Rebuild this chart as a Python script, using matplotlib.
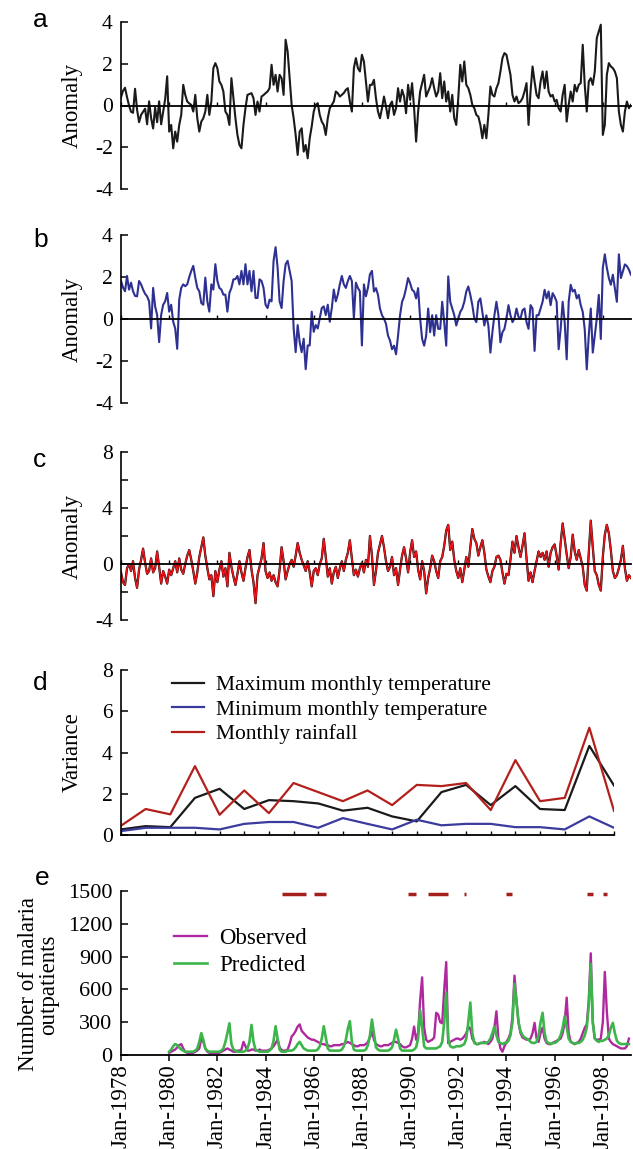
import matplotlib
matplotlib.use("Agg")
import matplotlib.pyplot as plt

W, H = 633, 1149
SERIF = "Liberation Serif"
SANS = "Liberation Sans"

# ---------------- data ----------------
START_YEAR = 1978  # monthly series start (Jan)

# (a) maximum monthly temperature anomaly
max_temp_anomaly = [
    0.4, 0.7, 0.85, 0.4, 0.0, -0.3, -0.35, 0.8, -0.2, -0.8, -0.45, -0.3,
    -0.15, -0.9, 0.2, -0.6, -1.1, -0.1, -0.8, 0.2, -0.9, -0.3, 0.3, 1.4,
    -1.25, -0.93, -2.05, -1.25, -1.73, -0.93, -0.45, 0.99, 0.51, 0.19, 0.1, 0.03,
    -0.29, 0.51, -0.61, -1.25, -0.77, -0.61, -0.29, 0.51, -0.45, 0.19, 1.79, 2.03,
    1.79, 1.15, 0.99, 0.67, -0.29, -0.45, -0.93, 1.31, 0.35, -0.61, -1.41, -1.89,
    -2.05, -0.93, -0.13, 0.51, 0.55, 0.59, 0.35, -0.45, 0.19, -0.29, 0.43, 0.5,
    0.59, 0.67, 0.83, 1.95, 0.99, 1.47, 0.67, 1.47, 1.31, 0.51, 3.15, 2.59,
    1.3, 0.03, -0.61, -1.41, -2.37, -1.25, -1.09, -2.21, -1.89, -2.53, -1.57, -1.0,
    -0.29, 0.03, 0.11, -0.45, -0.77, -0.93, -1.41, -0.61, -0.13, 0.03, 0.19, 0.67,
    0.59, 0.43, 0.51, 0.6, 0.75, 0.83, 0.19, -0.29, 1.79, 2.27, 1.79, 1.63,
    2.43, 2.11, 1.15, 0.19, 0.99,
    0.99, 1.23, 0.35, -0.29, -0.61, -0.13, 0.43, -0.05, -0.61, 0.03, 0.19, -0.45,
    -0.13, 0.83, 0.19, 0.75, 0.43, -0.37, 0.99, 0.27, 1.07, -0.13, -1.73, -0.29,
    0.67, 1.07, 1.47, 0.43, 0.67, 0.91, 1.31, 0.83, 0.43, 0.67, 1.55, 0.35,
    1.15, 0.19, 0.67, -0.29, 0.51, -0.61, -0.93, 0.35, 1.95, 1.15, 2.11, 0.99,
    0.83, 0.51, 0.03, -0.13, -0.45, -0.53, -0.93, -1.57, -0.93, -1.57, -0.45, 0.91,
    0.51, 0.43, 0.83, 1.07, 1.63, 2.27, 2.51, 2.43, 1.95, 1.47, 0.51, 0.19,
    0.43, 0.11, 0.19, 0.35, 0.67, 1.07, -0.93, 0.67, 1.87, 1.15, 0.51, 0.35,
    1.15, 1.63, 0.83, 1.63, 0.67, 0.43, 0.51, 0.19, 0.27, -0.13, -0.29, 0.51,
    0.99, -0.77, 0.03, 0.67, 0.19, 0.99, 0.67, 0.99, 1.07, 2.91, 0.99, -0.29,
    1.15, 1.31, 0.99, 1.63, 3.23, 3.55, 3.87, -1.41, -0.93, 1.47, 2.03, 1.87,
    1.79, 1.63, 1.31, -0.29, -0.93, -1.25, -0.29, 0.19, -0.13, 0.03,
]

# (b) minimum monthly temperature anomaly
min_temp_anomaly = [
    1.81, 1.5, 1.32, 2.05, 1.40, 1.73, 1.32, 1.1, 1.08, 1.81, 1.65, 1.40,
    1.2, 1.08, 0.84, -0.45, 1.48, 0.60, 0.19, -1.10, 0.19, 0.68, 0.84, 1.24,
    0.35, 0.68, -0.13, -0.45, -1.42, 0.92, 1.48, 1.65, 1.56, 1.65, 2.0, 2.29,
    2.53, 1.97, 1.48, 1.32, 0.76, 0.68, 1.97, 0.84, 0.35, 1.65, 1.40, 2.61,
    1.81, 1.48, 1.40, 1.16, 1.16, 0.35, 1.24, 1.48, 1.89, 1.9, 2.05, 1.65,
    2.29, 1.65, 2.61, 1.65, 2.29, 1.32, 2.29, 1.0, 1.0, 1.89, 1.81, 1.48,
    0.68, 0.52, 0.92, 0.84, 2.77, 3.42, 2.45, 0.84, 0.52, 1.81, 2.61, 2.77,
    2.29, 1.81, -0.45, -1.58, -0.29, -1.10, -1.58, -0.94, -2.39, -1.26, -1.26, 0.35,
    -0.61, -0.29, -0.45, 0.03, 0.52, 0.60, 0.19, 0.68, -0.13, 0.52, 1.40, 0.84,
    1.16, 1.65, 2.05, 1.65, 1.48, 1.81, 2.05, 1.81, 0.03, 1.73, 1.48, 1.32,
    -1.26, 1.65, 1.08, 1.48, 2.13,
    2.29, 1.31, 1.47, 1.15, 0.5, 0.18, 0.02, -0.23, -0.79, -1.03, -1.44, -1.27,
    -1.68, -0.79, 0.18, 0.82, 1.06, 1.47, 1.95, 1.71, 1.39, 1.31, 0.98, 1.47,
    0.02, -0.95, -1.27, -0.79, 0.5, -0.63, 0.18, -0.79, 0.18, -0.47, -0.47, 0.82,
    -0.15, -1.27, 2.03, 0.82, 0.5, 0.18, -0.31, 0.02, 0.34, 0.5, 0.82, 1.31,
    1.55, 1.15, 0.66, 0.02, -0.15, 0.82, 0.98, 0.34, -0.31, 0.18, -0.31, -1.6,
    -0.63, 0.18, 0.82, 0.18, -1.11, -0.63, -0.47, 0.02, 0.66, 0.18, -0.15, 0.02,
    0.5, 0.1, 0.02, 0.42, 0.5, -0.15, -0.47, 0.66, 0.5, -1.52, 0.18, 0.18,
    0.5, 0.82, 1.39, 0.98, 1.31, 0.66, 1.23, 1.06, 0.82, -1.44, -0.47, 0.82,
    -0.15, -1.92, 0.82, 1.63, 1.31, 1.39, 0.98, 1.15, 0.66, 0.34, -0.5, -2.4,
    -0.79, 0.5, -1.6, -0.79, 0.02, 1.15, -0.95, 2.44, 3.08, 2.44, 1.95, 1.63,
    2.11, 1.47, 0.82, 3.08, 1.95, 2.27, 2.6, 2.52, 2.35, 2.11,
]

# (c) monthly rainfall anomaly
rainfall_anomaly = [
    -0.6, -1.3, -1.5, -0.3, 0.0, -0.5, 0.2, -1.0, -1.7, -0.4, 0.3, 1.1,
    0.1, -0.7, -0.5, 0.4, -0.6, -0.3, 0.9, -0.2, -1.4, -0.5, -0.9, -1.4,
    -0.4, -0.8, -0.3, 0.2, -0.6, 0.4, -0.4, -0.7, 0.0, 0.6, 1.0, 0.3,
    -0.5, -1.4, -0.6, 0.5, 1.2, 1.9, 0.6, -0.3, -1.1, -0.8, -2.3, -0.5,
    -1.3, -0.4, 0.2, -0.9, -0.3, -1.6, 0.8, -0.2, -0.9, -1.5, -0.7, 0.2,
    -0.6, -1.2, -0.3, 0.5, 1.0, -0.4, -1.3, -2.8, -0.8, -0.2, 0.4, 1.5,
    -0.5, -1.0, -0.6, -1.2, -0.8, -1.3, -1.6, -0.4, 1.2, 0.2, -1.1, -0.5,
    0.0, 0.3, -0.2, 0.6, 1.5, 0.8, 0.3, -0.1, -0.5, 0.2, -0.6, -1.6,
    -0.5, -0.3, -0.8, 0.0, 0.4, 1.8, 0.5, -0.9, -0.3, -1.4, -0.6, -0.2,
    -1.0, -0.3, 0.2, -0.5, 0.3, 0.8, 1.7, 0.4, -0.8, -0.4, -0.9, -0.3,
    0.1, -0.6, 0.3, -0.2, 2.0, 0.6, -1.5, -0.5, 0.8, 1.4, 2.0, 1.2,
    0.2, -0.5, -0.2, 0.5, -0.8, -0.3, -1.5, -0.4, 0.6, 1.2, 0.4, -0.6,
    0.8, 1.7, 0.5, 0.9, -0.4, -1.1, 0.2, -0.5, -2.1, -1.0, -0.3, 0.6,
    0.2, -0.5, -1.0, 0.2, 0.5, 1.3, 2.4, 2.8, 1.0, 1.6, 0.3, -0.5,
    -1.0, -0.3, -1.3, -0.4, 0.5, -0.2, 1.2, 2.5, 1.8, 1.5, 0.6, 1.2,
    1.7, 0.8, -0.4, -0.9, -1.3, -0.5, -0.2, 0.5, 0.6, 0.3, -0.6, -1.4,
    -0.7, -0.8, 0.3, 1.6, 0.8, 2.0, 1.2, 0.5, 1.3, 2.2, 0.4, -1.2,
    -0.6, -1.3, -0.5, 0.2, 0.9, 0.5, 0.8, 0.3, 0.9, -0.2, 0.8, 1.2,
    1.4, 0.6, -0.4, 1.5, 2.9, 1.8, 0.7, -0.3, 0.5, 2.1, 0.9, 0.3,
    1.0, 0.4, -0.2, -1.5, -1.9, 0.8, 3.1, 1.2, -0.5, -0.8, -1.5, -1.9,
    0.5, 2.1, 2.8, 2.2, 1.0, -0.5, -1.0, -0.8, -0.3, 0.3, 1.3, -0.3,
    -1.2, -0.8, -1.0,
]

# (d) yearly variance
variance_years = list(range(1978, 1999))
var_max_temp = [0.27, 0.43, 0.38, 1.8, 2.24, 1.26, 1.69, 1.64, 1.53, 1.18, 1.32,
                0.9, 0.66, 2.08, 2.43, 1.45, 2.37, 1.26, 1.21, 4.32, 2.4]
var_min_temp = [0.19, 0.35, 0.35, 0.35, 0.27, 0.54, 0.63, 0.63, 0.35, 0.82, 0.54,
                0.27, 0.74, 0.47, 0.54, 0.54, 0.38, 0.38, 0.27, 0.9, 0.35]
var_rainfall = [0.45, 1.26, 1.0, 3.34, 0.98, 2.16, 1.06, 2.52, 2.08, 1.64, 2.16,
                1.45, 2.43, 2.37, 2.52, 1.21, 3.63, 1.64, 1.8, 5.2, 1.17]

# (e) monthly malaria outpatients, from Jan 1980
MALARIA_START_YEAR = 1980
observed_cases = [
    20, 30, 40, 50, 70, 90, 100, 60, 30, 20, 10, 20,            # 1980
    20, 30, 40, 60, 150, 120, 60, 30, 20, 20, 20, 20,           # 1981
    20, 20, 30, 40, 50, 60, 50, 40, 30, 30, 40, 40,             # 1982
    50, 120, 80, 40, 40, 50, 50, 40, 40, 50, 40, 40,            # 1983
    40, 40, 50, 60, 80, 110, 140, 70, 45, 40, 40, 50,           # 1984
    100, 170, 190, 220, 260, 280, 220, 200, 180, 160, 150, 140, # 1985
    140, 130, 120, 110, 100, 100, 90, 90, 80, 80, 90, 90,       # 1986
    90, 90, 100, 100, 110, 120, 110, 100, 90, 80, 80, 90,       # 1987
    90, 90, 100, 120, 160, 216, 140, 100, 90, 80, 80, 90,       # 1988
    90, 90, 100, 110, 120, 120, 110, 100, 80, 70, 70, 80,       # 1989
    90, 150, 260, 140, 200, 500, 710, 250, 140, 120, 130, 140,  # 1990
    160, 386, 370, 300, 290, 600, 850, 108, 120, 130, 140, 150, # 1991
    150, 140, 150, 170, 200, 260, 240, 150, 120, 100, 100, 110, # 1992
    110, 120, 110, 100, 120, 150, 250, 400, 150, 60, 30, 80,    # 1993
    120, 150, 200, 350, 726, 500, 300, 200, 160, 150, 140, 140, # 1994
    150, 200, 294, 150, 120, 200, 250, 150, 110, 100, 100, 110, # 1995
    120, 130, 140, 150, 200, 300, 525, 200, 120, 110, 100, 110, # 1996
    120, 150, 200, 250, 280, 500, 930, 300, 150, 140, 140, 150, # 1997
    300, 760, 400, 150, 120, 100, 90, 80, 70, 60, 60, 60,       # 1998
    80, 150,                                                    # 1999
]
predicted_cases = [
    30, 50, 80, 100, 90, 70, 50, 40, 30, 30, 30, 30,            # 1980
    30, 40, 60, 120, 200, 140, 60, 40, 30, 30, 30, 30,          # 1981
    30, 30, 40, 60, 120, 200, 290, 100, 50, 40, 30, 30,         # 1982
    30, 30, 40, 60, 120, 275, 120, 50, 40, 30, 30, 30,          # 1983
    30, 30, 40, 60, 130, 263, 150, 50, 30, 30, 30, 40,          # 1984
    40, 40, 50, 70, 100, 120, 90, 60, 50, 40, 40, 40,           # 1985
    40, 40, 50, 80, 150, 263, 160, 60, 40, 40, 40, 40,          # 1986
    40, 40, 50, 80, 140, 240, 309, 120, 50, 40, 40, 40,         # 1987
    40, 40, 50, 90, 180, 324, 200, 70, 50, 40, 40, 40,          # 1988
    40, 40, 50, 70, 140, 232, 150, 60, 40, 40, 40, 40,          # 1989
    40, 40, 50, 70, 150, 410, 250, 80, 60, 60, 60, 60,          # 1990
    60, 60, 70, 80, 120, 300, 570, 150, 80, 70, 70, 80,         # 1991
    80, 80, 90, 100, 150, 300, 480, 200, 110, 100, 100, 110,    # 1992
    110, 110, 110, 120, 150, 200, 260, 180, 120, 110, 100, 110, # 1993
    110, 130, 180, 300, 650, 480, 300, 220, 180, 160, 150, 140, # 1994
    120, 110, 110, 120, 180, 300, 386, 200, 120, 110, 100, 110, # 1995
    110, 120, 140, 180, 250, 355, 250, 150, 120, 110, 100, 110, # 1996
    110, 120, 140, 180, 250, 450, 834, 300, 150, 130, 120, 130, # 1997
    130, 140, 150, 180, 250, 294, 200, 130, 110, 100, 100, 100, # 1998
    100, 100,                                                   # 1999
]

# flagged periods shown as dark red dashes at the top of panel e
flag_starts = ["1984-09", "1986-01", "1989-12", "1990-10", "1992-04", "1994-01", "1997-05", "1998-01"]
flag_ends = ["1985-09", "1986-07", "1990-04", "1991-08", "1992-05", "1994-04", "1997-08", "1998-03"]
FLAG_LEVEL = 1470

tick_years = list(range(1978, 1999, 2))
tick_labels = ["Jan-%d" % y for y in tick_years]


def month_axis(start_year, n):
    return [start_year + i / 12.0 for i in range(n)]


def ym(s):
    y, m = s.split("-")
    return int(y) + (int(m) - 1) / 12.0


# ---------------- figure ----------------
fig = plt.figure(figsize=(W / 100, H / 100), dpi=100)
XMAX = 1999.17
TICK_FS = 15.5
LABEL_FS = 16.5
LETTER_FS = 19


def panel(top, bottom, left=121, right=631):
    return fig.add_axes([left / W, 1 - bottom / H, (right - left) / W, (bottom - top) / H])


def style_left(ax, fs=TICK_FS):
    for s in ("top", "right"):
        ax.spines[s].set_visible(False)
    ax.spines["left"].set_linewidth(1.2)
    ax.tick_params(axis="y", direction="in", length=5, width=1.1, labelsize=fs, pad=6)
    for lab in ax.get_yticklabels():
        lab.set_fontfamily(SERIF)


def anomaly_panel(top, bottom, values, color, ylim, yticks, ylabels, letter, ly, overlay=None):
    ax = panel(top, bottom)
    t = month_axis(START_YEAR, len(values))
    if overlay is not None:
        ax.plot(t, values, color="black", lw=1.6)
        ax.plot(t, values, color=overlay, lw=1.15)
    else:
        ax.plot(t, values, color=color, lw=1.5)
    ax.set_xlim(START_YEAR, XMAX)
    ax.set_ylim(*ylim)
    ax.spines["bottom"].set_position(("data", 0))
    ax.spines["bottom"].set_linewidth(1.3)
    ax.set_xticks(tick_years)
    ax.tick_params(axis="x", direction="in", length=3, width=1, labelbottom=False)
    ax.set_yticks(yticks)
    ax.set_yticklabels(ylabels)
    style_left(ax)
    ax.set_ylabel("Anomaly", fontsize=LABEL_FS, family=SERIF)
    ax.yaxis.set_label_coords(-0.074, 0.5)
    fig.text(33 / W, 1 - ly / H, letter, fontsize=LETTER_FS, family=SANS, ha="left", va="center")
    return ax


anomaly_panel(22, 189, max_temp_anomaly, "#1a1a1a", (-4, 4), [-4, -2, 0, 2, 4],
              ["-4", "-2", "0", "2", "4"], "a", 20)
anomaly_panel(235, 403, min_temp_anomaly, "#2e3192", (-4, 4), [-4, -2, 0, 2, 4],
              ["-4", "-2", "0", "2", "4"], "b", 240)
anomaly_panel(452, 620, rainfall_anomaly, "black", (-4, 8), [-4, -2, 0, 2, 4, 6, 8],
              ["-4", "", "0", "", "4", "", "8"], "c", 460, overlay="#e8161b")

# (d) variance
axd = panel(670, 835, right=614)
axd.plot(variance_years, var_max_temp, color="#1a1a1a", lw=1.6, label="Maximum monthly temperature")
axd.plot(variance_years, var_min_temp, color="#3b3b9e", lw=1.6, label="Minimum monthly temperature")
axd.plot(variance_years, var_rainfall, color="#b3201c", lw=1.6, label="Monthly rainfall")
axd.set_xlim(variance_years[0], variance_years[-1])
axd.set_ylim(0, 8)
axd.set_xticks(variance_years)
axd.tick_params(axis="x", direction="in", length=3, width=1, labelbottom=False)
axd.spines["bottom"].set_linewidth(1.3)
axd.set_yticks([0, 2, 4, 6, 8])
style_left(axd)
axd.set_ylabel("Variance", fontsize=LABEL_FS, family=SERIF)
axd.yaxis.set_label_coords(-0.077, 0.5)
axd.legend(loc="upper left", bbox_to_anchor=(0.085, 1.02), frameon=False,
           prop={"family": SERIF, "size": 15.5}, handlelength=1.5, handletextpad=0.55,
           labelspacing=0.2, borderaxespad=0)
fig.text(33 / W, 1 - 683 / H, "d", fontsize=LETTER_FS, family=SANS, ha="left", va="center")

# (e) malaria outpatients
axe = panel(891, 1055)
te = month_axis(MALARIA_START_YEAR, len(observed_cases))
axe.plot(te, observed_cases, color="#b0289e", lw=1.7, label="Observed")
axe.plot(te, predicted_cases, color="#3cb54a", lw=1.9, label="Predicted")
for s, e in zip(flag_starts, flag_ends):
    axe.plot([ym(s), ym(e)], [FLAG_LEVEL, FLAG_LEVEL], color="#a3201c", lw=2.5,
             solid_capstyle="butt")
axe.set_xlim(START_YEAR, XMAX)
axe.set_ylim(0, 1500)
axe.set_xticks(tick_years)
axe.set_xticklabels(tick_labels, rotation=90, fontsize=16.5, family=SERIF)
axe.tick_params(axis="x", direction="out", length=4, width=1.1, pad=3)
axe.spines["bottom"].set_linewidth(1.3)
axe.set_yticks([0, 300, 600, 900, 1200, 1500])
style_left(axe, fs=16)
axe.set_ylabel("Number of malaria\noutpatients", fontsize=LABEL_FS, family=SERIF, linespacing=0.95)
axe.yaxis.set_label_coords(-0.122, 0.43)
axe.legend(loc="upper left", bbox_to_anchor=(0.085, 0.83), frameon=False,
           prop={"family": SERIF, "size": 16.5}, handlelength=1.45, handletextpad=0.55,
           labelspacing=0.25, borderaxespad=0)
fig.text(35 / W, 1 - 878 / H, "e", fontsize=LETTER_FS, family=SANS, ha="left", va="center")

fig.savefig("out.png", dpi=100)
